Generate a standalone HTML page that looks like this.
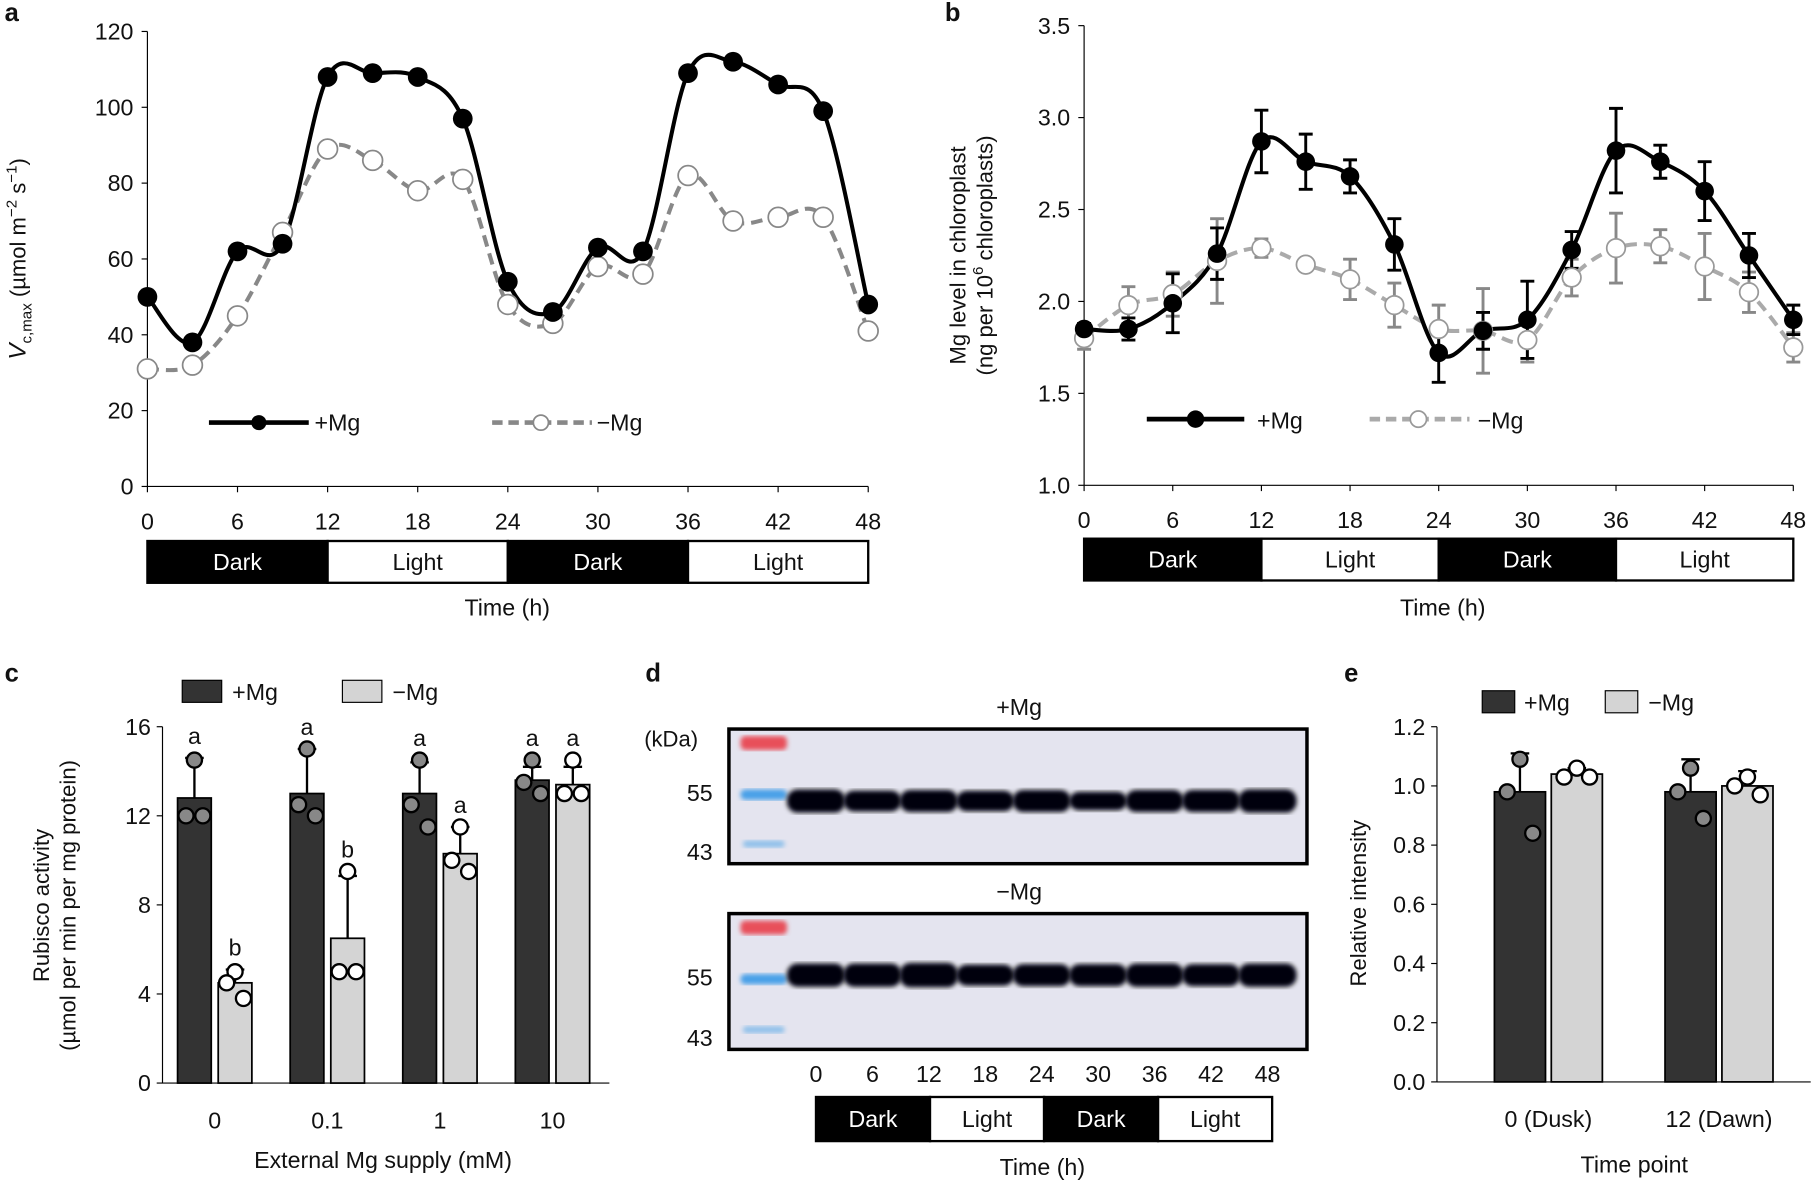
<!DOCTYPE html>
<html><head><meta charset="utf-8"><style>
html,body{margin:0;padding:0;background:#fff;}
svg{display:block;font-family:"Liberation Sans",Arial,sans-serif;}
text{fill:#111;}
</style></head><body>
<svg id="fig" width="1820" height="1183" viewBox="0 0 1568 1019" xmlns="http://www.w3.org/2000/svg">
<defs><filter id="blur"><feGaussianBlur stdDeviation="2"/></filter></defs>
<g id="pa"></g>
<g id="pb"></g>
<g id="pc"></g>
<g id="pd"></g>
<g id="pe"></g>
</svg>
<script>
// ---- data ----
const timesH = [0,3,6,9,12,15,18,21,24,27,30,33,36,39,42,45,48];
const xTicks = [0,6,12,18,24,30,36,42,48];
const aPlus = [50,38,62,64,108,109,108,97,54,46,63,62,109,112,106,99,48];
const aMinus = [31,32,45,67,89,86,78,81,48,43,58,56,82,70,71,71,41];
const aYTicks = [0,20,40,60,80,100,120];
const bPlus = [1.85,1.85,1.99,2.26,2.87,2.76,2.68,2.31,1.72,1.84,1.90,2.28,2.82,2.76,2.60,2.25,1.90];
const bPlusErr = [0.03,0.06,0.16,0.14,0.17,0.15,0.09,0.14,0.16,0.10,0.21,0.10,0.23,0.09,0.16,0.12,0.08];
const bMinus = [1.80,1.98,2.04,2.22,2.29,2.20,2.12,1.98,1.85,1.84,1.79,2.13,2.29,2.30,2.19,2.05,1.75];
const bMinusErr = [0.06,0.10,0.12,0.23,0.05,0,0.11,0.12,0.13,0.23,0.12,0.10,0.19,0.09,0.18,0.11,0.08];
const bYTicks = [1.0,1.5,2.0,2.5,3.0,3.5];
const cCats = ["0","0.1","1","10"];
const cPlus = [12.8,13.0,13.0,13.6];
const cPlusErr = [1.8,2.0,1.4,0.6];
const cMinus = [4.5,6.5,10.3,13.4];
const cMinusErr = [0.6,2.8,1.2,0.8];
const cPlusPts = [[14.5,12.0,12.0],[15.0,12.5,12.0],[14.5,12.5,11.5],[14.5,13.5,13.0]];
const cMinusPts = [[5.0,4.5,3.8],[9.5,5.0,5.0],[11.5,10.0,9.5],[14.5,13.0,13.0]];
const cLetPlus = ["a","a","a","a"];
const cLetMinus = ["b","b","a","a"];
const cYTicks = [0,4,8,12,16];
const eCats = ["0 (Dusk)","12 (Dawn)"];
const ePlus = [0.98,0.98];
const ePlusErr = [0.13,0.11];
const eMinus = [1.04,1.00];
const eMinusErr = [0.02,0.05];
const ePlusPts = [[1.09,0.98,0.84],[1.06,0.98,0.89]];
const eMinusPts = [[1.06,1.03,1.03],[1.03,1.00,0.97]];
const eYTicks = [0,0.2,0.4,0.6,0.8,1.0,1.2];
const dLanes = [0,6,12,18,24,30,36,42,48];
const dPlusInt = [1.0,0.9,0.95,0.88,0.95,0.8,0.95,0.95,1.0];
const dMinusInt = [1.0,1.0,1.05,0.9,0.95,0.95,1.0,0.95,1.0];

const NS="http://www.w3.org/2000/svg";
function el(parent,tag,attrs,txt){const e=document.createElementNS(NS,tag);for(const k in attrs)e.setAttribute(k,attrs[k]);if(txt!==undefined)e.textContent=txt;parent.appendChild(e);return e;}
function spline(pts){let d=`M${pts[0][0]},${pts[0][1]}`;for(let i=0;i<pts.length-1;i++){const p0=pts[Math.max(0,i-1)],p1=pts[i],p2=pts[i+1],p3=pts[Math.min(pts.length-1,i+2)];const c1=[p1[0]+(p2[0]-p0[0])/6,p1[1]+(p2[1]-p0[1])/6],c2=[p2[0]-(p3[0]-p1[0])/6,p2[1]-(p3[1]-p1[1])/6];d+=` C${c1[0]},${c1[1]} ${c2[0]},${c2[1]} ${p2[0]},${p2[1]}`;}return d;}
function fmt(v,dec){return v.toFixed(dec);}
function darkLight(g,x0,x1,y0,y1,fs){const labels=["Dark","Light","Dark","Light"];const w=(x1-x0)/4;
 labels.forEach((l,i)=>{const dark=l==="Dark";
  const r=el(g,'rect',{x:x0+i*w,y:y0,width:w,height:y1-y0,fill:dark?'#000':'#fff',stroke:'#000','stroke-width':2});
  
  const t=el(g,'text',{x:x0+i*w+w/2,y:(y0+y1)/2+7,'text-anchor':'middle','font-size':fs},l);t.style.fill=dark?'#fff':'#111';
  });}

// ---- panel a ----
(function(){const g=document.getElementById('pa');
const X=t=>127+t*(748-127)/48, Y=v=>419-v*(419-27)/120;
let t=el(g,'text',{x:4,y:18,'font-size':22,'font-weight':'bold'},'a');
el(g,'line',{x1:X(0),y1:Y(0),x2:X(0),y2:Y(120),stroke:'#000','stroke-width':1});
el(g,'line',{x1:X(0),y1:Y(0),x2:X(48),y2:Y(0),stroke:'#000','stroke-width':1});
aYTicks.forEach(v=>{el(g,'line',{x1:X(0)-5,y1:Y(v),x2:X(0),y2:Y(v),stroke:'#000'});const tt=el(g,'text',{x:X(0)-12,y:Y(v)+7,'text-anchor':'end','font-size':20},String(v));});
xTicks.forEach(v=>{el(g,'line',{x1:X(v),y1:Y(0),x2:X(v),y2:Y(0)+5,stroke:'#000'});const tt=el(g,'text',{x:X(v),y:456,'text-anchor':'middle','font-size':20},String(v));});
const yl=el(g,'text',{transform:`translate(22,${(Y(0)+Y(120))/2}) rotate(-90)`,'text-anchor':'middle','font-size':19});
yl.innerHTML='<tspan font-style="italic" font-size="21">V</tspan><tspan font-size="13" dy="5">c,max</tspan><tspan dy="-5"> (µmol m</tspan><tspan font-size="13" dy="-8">−2</tspan><tspan dy="8"> s</tspan><tspan font-size="13" dy="-8">−1</tspan><tspan dy="8">)</tspan>';

const pm=timesH.map((h,i)=>[X(h),Y(aMinus[i])]);
let p=el(g,'path',{d:spline(pm),fill:'none',stroke:'#888','stroke-width':3.5,'stroke-dasharray':'10,6'});
const pp=timesH.map((h,i)=>[X(h),Y(aPlus[i])]);
p=el(g,'path',{d:spline(pp),fill:'none',stroke:'#000','stroke-width':3.5});
pm.forEach(q=>{const c=el(g,'circle',{cx:q[0],cy:q[1],r:8.5,fill:'#fff',stroke:'#888','stroke-width':1.5});});
pp.forEach(q=>{const c=el(g,'circle',{cx:q[0],cy:q[1],r:8.5,fill:'#000'});});
el(g,'line',{x1:180,y1:364,x2:266,y2:364,stroke:'#000','stroke-width':4});el(g,'circle',{cx:223,cy:364,r:6.5,fill:'#000'});
t=el(g,'text',{x:271,y:371,'font-size':20},'+Mg');
el(g,'line',{x1:424,y1:364,x2:510,y2:364,stroke:'#888','stroke-width':4,'stroke-dasharray':'9,5'});el(g,'circle',{cx:466,cy:364,r:6.5,fill:'#fff',stroke:'#888','stroke-width':1.5});
t=el(g,'text',{x:514,y:371,'font-size':20},'−Mg');
darkLight(g,127,748,466,502,20);
t=el(g,'text',{x:437,y:530,'text-anchor':'middle','font-size':20},'Time (h)');
})();

// ---- panel b ----
(function(){const g=document.getElementById('pb');
const X=t=>934+t*(1545-934)/48, Y=v=>418-(v-1)*(418-22)/2.5;
let t=el(g,'text',{x:814,y:18,'font-size':22,'font-weight':'bold'},'b');
el(g,'line',{x1:X(0),y1:Y(1),x2:X(0),y2:Y(3.5),stroke:'#000'});el(g,'line',{x1:X(0),y1:Y(1),x2:X(48),y2:Y(1),stroke:'#000'});
bYTicks.forEach(v=>{el(g,'line',{x1:X(0)-5,y1:Y(v),x2:X(0),y2:Y(v),stroke:'#000'});const tt=el(g,'text',{x:X(0)-12,y:Y(v)+7,'text-anchor':'end','font-size':20},fmt(v,1));});
xTicks.forEach(v=>{el(g,'line',{x1:X(v),y1:Y(1),x2:X(v),y2:Y(1)+5,stroke:'#000'});const tt=el(g,'text',{x:X(v),y:455,'text-anchor':'middle','font-size':20},String(v));});
const yl=el(g,'text',{transform:`translate(832,220) rotate(-90)`,'text-anchor':'middle','font-size':19});
yl.innerHTML='<tspan x="0" dy="0">Mg level in chloroplast</tspan><tspan x="0" dy="23">(ng per 10</tspan><tspan font-size="13" dy="-8">6</tspan><tspan dy="8"> chloroplasts)</tspan>';

function errs(vals,er,col,name){timesH.forEach((h,i)=>{if(!er[i])return;const x=X(h),y1=Y(vals[i]+er[i]),y2=Y(vals[i]-er[i]);const e=el(g,'path',{d:`M${x},${y1}V${y2}M${x-6},${y1}h12M${x-6},${y2}h12`,stroke:col,'stroke-width':2.5,fill:'none'});});}
errs(bMinus,bMinusErr,'#888','error-bar-minus-mg');errs(bPlus,bPlusErr,'#000','error-bar-plus-mg');
const pm=timesH.map((h,i)=>[X(h),Y(bMinus[i])]);
let p=el(g,'path',{d:spline(pm),fill:'none',stroke:'#aaa','stroke-width':3.5,'stroke-dasharray':'10,6'});
const pp=timesH.map((h,i)=>[X(h),Y(bPlus[i])]);
p=el(g,'path',{d:spline(pp),fill:'none',stroke:'#000','stroke-width':3.5});
pm.forEach(q=>{const c=el(g,'circle',{cx:q[0],cy:q[1],r:8,fill:'#fff',stroke:'#999','stroke-width':1.5});});
pp.forEach(q=>{const c=el(g,'circle',{cx:q[0],cy:q[1],r:8,fill:'#000'});});
el(g,'line',{x1:988,y1:361,x2:1072,y2:361,stroke:'#000','stroke-width':4});el(g,'circle',{cx:1030,cy:361,r:7.5,fill:'#000'});
t=el(g,'text',{x:1083,y:369,'font-size':20},'+Mg');
el(g,'line',{x1:1180,y1:361,x2:1266,y2:361,stroke:'#aaa','stroke-width':4,'stroke-dasharray':'9,5'});el(g,'circle',{cx:1222,cy:361,r:7,fill:'#fff',stroke:'#999','stroke-width':1.5});
t=el(g,'text',{x:1273,y:369,'font-size':20},'−Mg');
darkLight(g,934,1545,464,500,20);
t=el(g,'text',{x:1243,y:530,'text-anchor':'middle','font-size':20},'Time (h)');
})();

// ---- bar panels ----
function barPanel(g,cfg){
 const Y=v=>cfg.y0-(v-0)*(cfg.y0-cfg.yTop)/cfg.yMax;
 el(g,'line',{x1:cfg.ax,y1:Y(0),x2:cfg.ax,y2:Y(cfg.yMax),stroke:'#000'});el(g,'line',{x1:cfg.ax,y1:Y(0),x2:cfg.axEnd,y2:Y(0),stroke:'#000'});
 cfg.ticks.forEach(v=>{el(g,'line',{x1:cfg.ax-5,y1:Y(v),x2:cfg.ax,y2:Y(v),stroke:'#000'});const tt=el(g,'text',{x:cfg.ax-10,y:Y(v)+7,'text-anchor':'end','font-size':20},cfg.tf(v));});
 cfg.cats.forEach((c,i)=>{
  const xc=cfg.gx(i);
  [[cfg.plus,cfg.plusErr,cfg.plusPts,'#333','#888',-1,'plus-mg'],[cfg.minus,cfg.minusErr,cfg.minusPts,'#d4d4d4','#fff',1,'minus-mg']].forEach(s=>{
   const bx=s[5]<0?xc-cfg.gap/2-cfg.bw:xc+cfg.gap/2, mid=bx+cfg.bw/2;
   const e=el(g,'path',{d:`M${mid},${Y(s[0][i])}V${Y(s[0][i]+s[1][i])}M${mid-8},${Y(s[0][i]+s[1][i])}h16`,stroke:'#000','stroke-width':2});
   const r=el(g,'rect',{x:bx,y:Y(s[0][i]),width:cfg.bw,height:Y(0)-Y(s[0][i]),fill:s[3],stroke:'#000','stroke-width':1.5});
   const offs=[0,-cfg.bw*0.25,cfg.bw*0.25];
   s[2][i].forEach((v,k)=>{const d=el(g,'circle',{cx:mid+(k===0?0:offs[k]),cy:Y(v),r:6.5,fill:s[4],stroke:'#000','stroke-width':2});});
   if(cfg.letP){const L=s[5]<0?cfg.letP[i]:cfg.letM[i];const top=Math.max(...s[2][i],s[0][i]+s[1][i]);const tl=el(g,'text',{x:mid,y:Y(top)-12,'text-anchor':'middle','font-size':20},L);}
  });
  const tt=el(g,'text',{x:xc,y:cfg.catY,'text-anchor':'middle','font-size':20},c);
 });
}
(function(){const g=document.getElementById('pc');
let t=el(g,'text',{x:4,y:587,'font-size':22,'font-weight':'bold'},'c');
barPanel(g,{y0:933,yTop:626,yMax:16,ax:140,axEnd:525,ticks:cYTicks,tf:v=>String(v),cats:cCats,gx:i=>185+i*97,gap:6,bw:29,plus:cPlus,plusErr:cPlusErr,plusPts:cPlusPts,minus:cMinus,minusErr:cMinusErr,minusPts:cMinusPts,letP:cLetPlus,letM:cLetMinus,catY:972});
const yl=el(g,'text',{transform:'translate(42,780) rotate(-90)','text-anchor':'middle','font-size':19});
yl.innerHTML='<tspan x="0" dy="0">Rubisco activity</tspan><tspan x="0" dy="23">(µmol per min per mg protein)</tspan>';
el(g,'rect',{x:157,y:586,width:34,height:19,fill:'#333',stroke:'#000'});t=el(g,'text',{x:200,y:603,'font-size':20},'+Mg');
el(g,'rect',{x:295,y:586,width:34,height:19,fill:'#d4d4d4',stroke:'#000'});t=el(g,'text',{x:338,y:603,'font-size':20},'−Mg');
t=el(g,'text',{x:330,y:1006,'text-anchor':'middle','font-size':20},'External Mg supply (mM)');
})();
(function(){const g=document.getElementById('pe');
let t=el(g,'text',{x:1158,y:587,'font-size':22,'font-weight':'bold'},'e');
barPanel(g,{y0:932,yTop:626,yMax:1.2,ax:1238,axEnd:1560,ticks:eYTicks,tf:v=>v.toFixed(1),cats:eCats,gx:i=>1334+i*147,gap:5,bw:44,plus:ePlus,plusErr:ePlusErr,plusPts:ePlusPts,minus:eMinus,minusErr:eMinusErr,minusPts:eMinusPts,catY:971});
const yl=el(g,'text',{transform:'translate(1177,778) rotate(-90)','text-anchor':'middle','font-size':19},'Relative intensity');
el(g,'rect',{x:1277,y:595,width:28,height:19,fill:'#333',stroke:'#000'});t=el(g,'text',{x:1313,y:612,'font-size':20},'+Mg');
el(g,'rect',{x:1383,y:595,width:28,height:19,fill:'#d4d4d4',stroke:'#000'});t=el(g,'text',{x:1420,y:612,'font-size':20},'−Mg');
t=el(g,'text',{x:1408,y:1010,'text-anchor':'middle','font-size':20},'Time point');
})();

// ---- panel d ----
(function(){const g=document.getElementById('pd');
const LX=h=>703+h*(1092-703)/48;
let t=el(g,'text',{x:556,y:587,'font-size':22,'font-weight':'bold'},'d');
t=el(g,'text',{x:555,y:643,'font-size':19},'(kDa)');
[[628,744,'+Mg',dPlusInt,690,'blot-plus-mg'],[787,904,'−Mg',dMinusInt,840,'blot-minus-mg']].forEach(b=>{
 const tt=el(g,'text',{x:878,y:b[0]-12,'text-anchor':'middle','font-size':20},b[2]);
 const r=el(g,'rect',{x:628,y:b[0],width:498,height:b[1]-b[0],fill:'#e4e4ef',stroke:'#000','stroke-width':3});
 el(g,'rect',{x:638,y:b[0]+6,width:40,height:12,rx:4,fill:'#e8505a',filter:'url(#blur)'});
 el(g,'rect',{x:638,y:b[0]+52,width:40,height:9,rx:4,fill:'#4aa0e8',filter:'url(#blur)'});
 el(g,'rect',{x:640,y:b[1]-20,width:36,height:6,rx:3,fill:'#8ec0ea',filter:'url(#blur)'});
 const l55=el(g,'text',{x:614,y:b[0]+62,'text-anchor':'end','font-size':20},'55');
 const l43=el(g,'text',{x:614,y:b[1]-3,'text-anchor':'end','font-size':20},'43');
 dLanes.forEach((h,i)=>{const bd=el(g,'rect',{x:LX(h)-25,y:b[4]-10*b[3][i],width:50,height:20*b[3][i],rx:9,fill:'#05050c',filter:'url(#blur)'});});
});
dLanes.forEach(h=>{const tt=el(g,'text',{x:LX(h),y:932,'text-anchor':'middle','font-size':20},String(h));});
darkLight(g,703,1096,945,983,20);
t=el(g,'text',{x:898,y:1012,'text-anchor':'middle','font-size':20},'Time (h)');
})();
</script>
</body></html>
